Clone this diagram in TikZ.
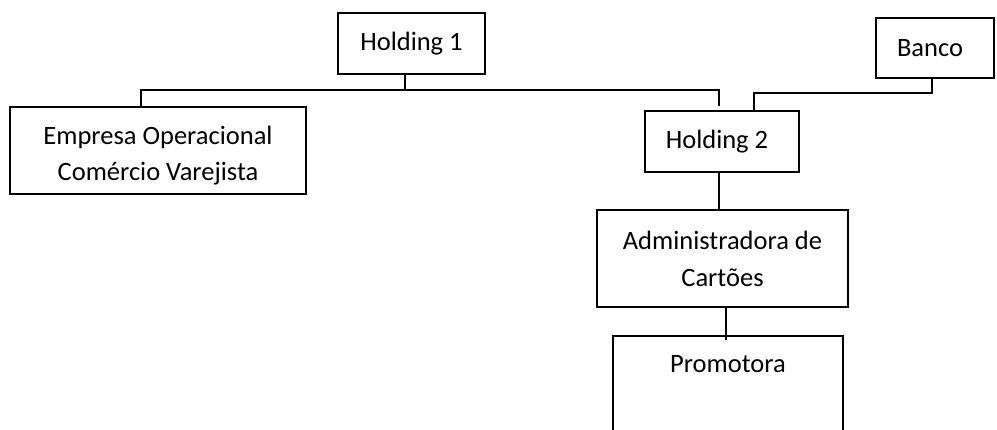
\documentclass[tikz,border=0pt]{standalone}
\usepackage{fontspec}
\setmainfont{Carlito}
\begin{document}
\begin{tikzpicture}[x=1pt,y=-1pt]
\tikzset{
  box/.style={draw, line width=1.8pt, rectangle, inner sep=0pt, align=center,
    font=\fontsize{26.5}{37}\selectfont},
  conn/.style={line width=1.8pt},
  lbl/.style={font=\fontsize{26.5}{36}\selectfont, inner sep=0pt, align=center}
}
\useasboundingbox (0,0) rectangle (997,430);
\clip (0,0) rectangle (997,430);

\node[box, minimum width=147pt, minimum height=61pt] (h1) at (411.5,43.5) {Holding 1};
\node[box, minimum width=296pt, minimum height=87pt,
  label={[lbl, anchor=center, yshift=-5pt]center:Empresa Operacional\\Comércio Varejista}] (emp) at (158,150.5) {};
\node[box, minimum width=118pt, minimum height=60pt,
  label={[lbl]center:\hspace*{-10pt}Banco}] (banco) at (935,48) {};
\node[box, minimum width=154pt, minimum height=61pt,
  label={[lbl]center:\hspace*{-10pt}Holding 2}] (h2) at (722,141.5) {};
\node[box, minimum width=251pt, minimum height=97pt] (adm) at (722.5,258.5) {Administradora de\\Cartões};
\node[box, minimum width=230pt, minimum height=124pt,
  label={[lbl, anchor=center, yshift=-29pt]north:Promotora}] (prom) at (728,398) {};

\coordinate (busM) at (405,90);
\coordinate (busL) at (141,90);
\coordinate (busR) at (719,90);
\coordinate (bk1) at (932,93);
\coordinate (bk2) at (754,93);
\coordinate (ap) at (726,340);

\draw[conn] (h1.south -| busM) -- (busM);
\draw[conn] (emp.north -| busL) -- (busL) -- (busR) -- ([yshift=4pt]h2.north -| busR);
\draw[conn] (banco.south -| bk1) -- (bk1) -- (bk2) -- (h2.north -| bk2);
\draw[conn] (h2.south -| busR) -- (adm.north -| busR);
\draw[conn] (adm.south -| ap) -- (ap);
\end{tikzpicture}
\end{document}
